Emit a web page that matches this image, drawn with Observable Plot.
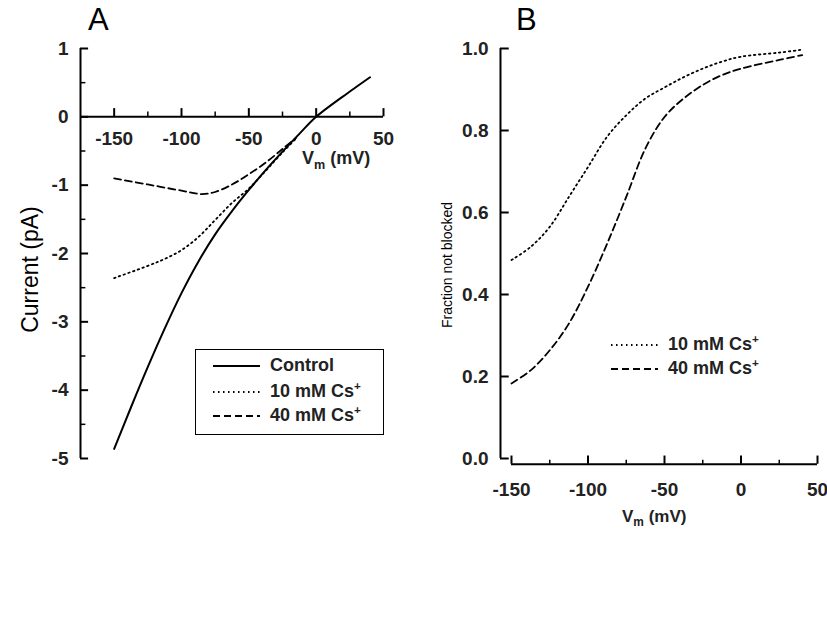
<!DOCTYPE html>
<html><head><meta charset="utf-8">
<script src="https://cdn.jsdelivr.net/npm/d3@7"></script>
<script src="https://cdn.jsdelivr.net/npm/@observablehq/plot@0.6"></script>
<style>
body{margin:0;background:#fff;font-family:"Liberation Sans",Arial,sans-serif;}
#wrap{position:relative;width:827px;height:636px;overflow:hidden}
.p{position:absolute;top:0}
.t{position:absolute;color:#000;white-space:nowrap}
.t sub{font-size:70%}
.t sup{font-size:65%}
</style></head>
<body><div id="wrap">
<div id="a" class="p" style="left:0"></div>
<div id="b" class="p" style="left:420px"></div>
<div class="t" style="left:88px;top:2px;font-size:31px">A</div>
<div class="t" style="left:516px;top:2px;font-size:31px">B</div>
<div class="t" style="left:302px;top:148px;font-size:18px;font-weight:bold;color:#222">V<sub>m</sub> (mV)</div>
<div class="t" style="left:622px;top:507px;font-size:17px;font-weight:bold;color:#222">V<sub>m</sub> (mV)</div>
<div class="t" style="left:-45px;top:256px;font-size:23px;transform:rotate(-90deg);width:150px;text-align:center">Current (pA)</div>
<div class="t" style="left:377px;top:257px;font-size:14px;transform:rotate(-90deg);width:140px;text-align:center">Fraction not blocked</div>
<div class="t" style="left:195px;top:349px;width:189px;height:86px;border:1.5px solid #000;box-sizing:border-box"></div>
<div id="legA"></div><div id="legB"></div>
</div>
<script>
// panel A: current-voltage
const vCtl = [-150, -137.5, -125, -112.5, -100, -87.5, -75, -62.5, -50, -37.5, -25, -12.5, 0, 25, 40];
const iCtl = [-4.86, -4.25, -3.66, -3.10, -2.58, -2.12, -1.72, -1.38, -1.07, -0.78, -0.51, -0.25, 0, 0.37, 0.58];
const v10 = [-150, -125, -112.5, -100, -87.5, -75, -62.5, -50, -37.5, -25, -15];
const i10 = [-2.36, -2.18, -2.08, -1.95, -1.76, -1.51, -1.26, -1.05, -0.79, -0.52, -0.32];
const v40 = [-150, -125, -100, -85, -75, -62.5, -50, -37.5, -25, -15];
const i40 = [-0.9, -0.99, -1.08, -1.13, -1.10, -0.99, -0.84, -0.67, -0.47, -0.31];
// panel B: fraction not blocked
const vB = [-150, -137.5, -125, -112.5, -100, -87.5, -75, -62.5, -50, -37.5, -25, -12.5, 0, 25, 40];
const f10 = [0.484, 0.516, 0.565, 0.638, 0.711, 0.785, 0.837, 0.878, 0.905, 0.93, 0.951, 0.968, 0.98, 0.99, 0.997];
const f40 = [0.183, 0.215, 0.264, 0.329, 0.419, 0.524, 0.638, 0.756, 0.833, 0.878, 0.911, 0.935, 0.951, 0.972, 0.984];
const xTicks = [-150, -100, -50, 0, 50];
const xMinor = [-125, -75, -25, 25];
const yTicksA = [-5, -4, -3, -2, -1, 0, 1];
const yMinorA = [-4.5, -3.5, -2.5, -1.5, -0.5, 0.5];
const yTicksB = [0, 0.2, 0.4, 0.6, 0.8, 1.0];

const zip = (xs, ys) => xs.map((x, i) => ({x, y: ys[i]}));
const font = "Liberation Sans, Arial, sans-serif";
const lbl = {fontSize: "19px", fontWeight: "bold", fill: "#222"};
const curve = "catmull-rom";

const chartA = Plot.plot({
  width: 410, height: 636,
  marginLeft: 80, marginRight: 27, marginTop: 48, marginBottom: 178,
  x: {domain: [-175, 50], axis: null}, y: {domain: [-5, 1], axis: null},
  style: {fontFamily: font, fontSize: "19px"},
  marks: [
    Plot.ruleX([-175], {y1: -5, y2: 1, strokeWidth: 2}),
    Plot.ruleY(yTicksA, {x1: -175, x2: -169, strokeWidth: 2}),
    Plot.ruleY(yMinorA, {x1: -175, x2: -171, strokeWidth: 1.5}),
    Plot.text(yTicksA, {x: -175, y: d => d, dx: -12, textAnchor: "end", text: d => d, ...lbl}),
    Plot.ruleY([0], {x1: -175, x2: 50, strokeWidth: 2}),
    Plot.ruleX(xTicks, {y1: 0, y2: 0.12, strokeWidth: 2}),
    Plot.ruleX(xMinor, {y1: 0, y2: 0.07, strokeWidth: 1.5}),
    Plot.text(xTicks, {x: d => d, y: 0, dy: 22, text: d => d, ...lbl}),
    Plot.line(zip(vCtl, iCtl), {x: "x", y: "y", curve, strokeWidth: 2}),
    Plot.line(zip(v10, i10), {x: "x", y: "y", curve, strokeWidth: 1.8, strokeDasharray: "1.5,3.5"}),
    Plot.line(zip(v40, i40), {x: "x", y: "y", curve, strokeWidth: 1.8, strokeDasharray: "7,4"})
  ]
});
document.getElementById("a").append(chartA);

const chartB = Plot.plot({
  width: 407, height: 636,
  marginLeft: 91, marginRight: 10, marginTop: 48, marginBottom: 178,
  x: {domain: [-150, 50], axis: null}, y: {domain: [0, 1], axis: null},
  style: {fontFamily: font, fontSize: "19px"},
  marks: [
    Plot.ruleX([-157.2], {y1: 0, y2: 1, strokeWidth: 2}),
    Plot.ruleY(yTicksB, {x1: -157.2, x2: -151.5, strokeWidth: 2}),
    Plot.text(yTicksB, {x: -157.2, y: d => d, dx: -12, textAnchor: "end", text: d => d.toFixed(1), ...lbl}),
    Plot.ruleY([-0.014], {x1: -150, x2: 50, strokeWidth: 2}),
    Plot.ruleX(xTicks, {y1: -0.014, y2: 0.006, strokeWidth: 2}),
    Plot.ruleX(xMinor, {y1: -0.014, y2: -0.004, strokeWidth: 1.5}),
    Plot.text(xTicks, {x: d => d, y: -0.014, dy: 26, text: d => d, ...lbl}),
    Plot.line(zip(vB, f10), {x: "x", y: "y", curve, strokeWidth: 1.8, strokeDasharray: "1.5,3.5"}),
    Plot.line(zip(vB, f40), {x: "x", y: "y", curve, strokeWidth: 1.8, strokeDasharray: "7,4"})
  ]
});
document.getElementById("b").append(chartB);

// legends
function legend(el, left, top, items) {
  el.innerHTML = items.map((it, i) =>
    `<div class="t" style="left:${left}px;top:${top + i * 24}px;font-size:18px;font-weight:bold;color:#222">
      <svg width="50" height="12" style="vertical-align:middle;margin-right:8px"><line x1="1" x2="48" y1="6" y2="6" stroke="#000" stroke-width="${it.w}" stroke-dasharray="${it.d}"/></svg>${it.t}</div>`
  ).join("");
}
const dot = "1.5,3.5", dash = "7,4";
legend(document.getElementById("legA"), 212, 355,
  [{t: "Control", d: "", w: 2}, {t: "10 mM Cs<sup>+</sup>", d: dot, w: 1.8}, {t: "40 mM Cs<sup>+</sup>", d: dash, w: 1.8}]);
legend(document.getElementById("legB"), 610, 332,
  [{t: "10 mM Cs<sup>+</sup>", d: dot, w: 1.8}, {t: "40 mM Cs<sup>+</sup>", d: dash, w: 1.8}]);
</script>
</body></html>
